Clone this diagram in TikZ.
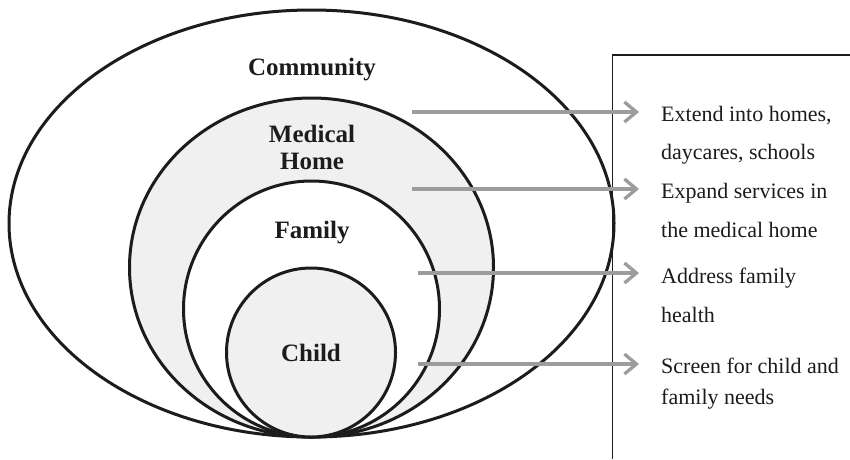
\documentclass[tikz,border=0pt]{standalone}
\usepackage{fontspec}
\setmainfont{Liberation Serif}
\usetikzlibrary{arrows.meta}
\definecolor{ringline}{HTML}{1C1C1C}
\definecolor{ringfill}{HTML}{F0F0F0}
\definecolor{arrowgray}{HTML}{9C9C9C}
\begin{document}
\begin{tikzpicture}[x=1pt,y=-1pt,
  ring/.style={draw=ringline,line width=3pt},
  ringlabel/.style={font=\bfseries\fontsize{25}{27}\selectfont,text=ringline,anchor=base,inner sep=0pt},
  note/.style={font=\fontsize{22}{26}\selectfont,text=ringline,anchor=base west,inner sep=0pt},
  pointer/.style={draw=arrowgray,line width=3.3pt,-{Straight Barb[length=12pt,width=20pt,line width=3.3pt]}},
  frameline/.style={draw=ringline,line width=1.3pt}]
\useasboundingbox (0,0) rectangle (850,459);
\fill[white] (0,0) rectangle (850,459);
% rings
\draw[ring,fill=white] (311.5,223.5) ellipse [x radius=302.5pt, y radius=213.5pt];
\draw[ring,fill=ringfill] (311.5,267.5) ellipse [x radius=182pt, y radius=169.5pt];
\draw[ring,fill=white] (311.5,309) ellipse [x radius=128pt, y radius=128pt];
\draw[ring,fill=ringfill] (311,352.5) ellipse [x radius=84.5pt, y radius=84.5pt];
% ring labels
\node[ringlabel] (community) at (312,75) {Community};
\node[ringlabel] (medical) at (312,142) {Medical};
\node[ringlabel] (home) at (312,169) {Home};
\node[ringlabel] (family) at (312,238) {Family};
\node[ringlabel] (child) at (311,361) {Child};
% frame
\coordinate (fbl) at (612.5,459);
\coordinate (ftl) at (612.5,55);
\coordinate (ftr) at (850,55);
\draw[frameline] (fbl) -- (ftl) -- (ftr);
% notes
\node[note] (n1a) at (661,121) {Extend into homes,};
\node[note] (n1b) at (661,159) {daycares, schools};
\node[note] (n2a) at (661,198) {Expand services in};
\node[note] (n2b) at (661,237) {the medical home};
\node[note] (n3a) at (661,283) {Address family};
\node[note] (n3b) at (661,322) {health};
\node[note] (n4a) at (661,373) {Screen for child and};
\node[note] (n4b) at (661,404) {family needs};
% arrows
\coordinate (s1) at (412,112); \coordinate (e1) at (639,112);
\coordinate (s2) at (412,189); \coordinate (e2) at (639,189);
\coordinate (s3) at (418,273); \coordinate (e3) at (639,273);
\coordinate (s4) at (418,364); \coordinate (e4) at (639,364);
\draw[pointer] (s1) -- (e1);
\draw[pointer] (s2) -- (e2);
\draw[pointer] (s3) -- (e3);
\draw[pointer] (s4) -- (e4);
\end{tikzpicture}
\end{document}
